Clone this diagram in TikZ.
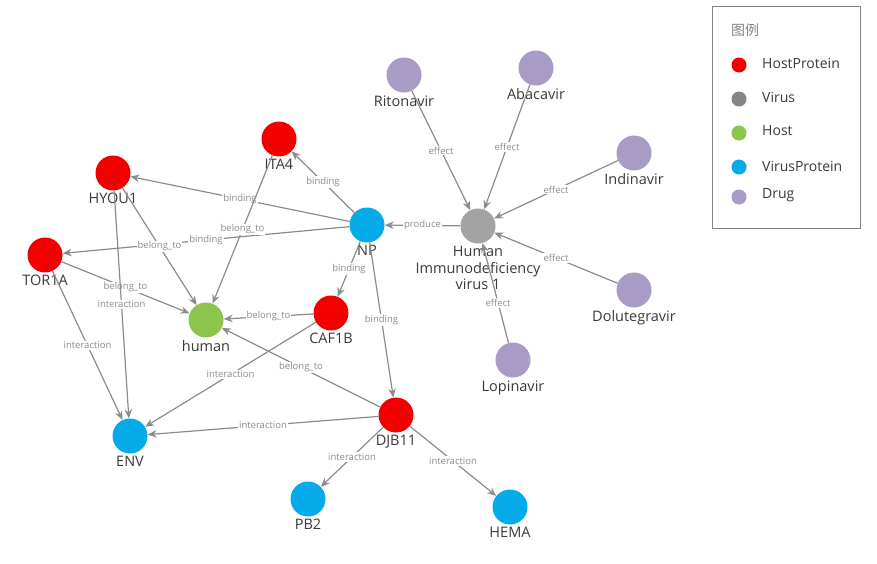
\documentclass[tikz,border=0pt]{standalone}
\usepackage{fontspec}
\setmainfont{Open Sans}
\newfontfamily\cjk{Noto Sans CJK SC}
\usetikzlibrary{arrows.meta}

\definecolor{hostred}{HTML}{F20000}
\definecolor{virusgray}{HTML}{A3A3A3}
\definecolor{legendgray}{HTML}{858585}
\definecolor{hostgreen}{HTML}{8DC54B}
\definecolor{vpblue}{HTML}{05ABE8}
\definecolor{drugpurple}{HTML}{A89CC6}
\definecolor{edgegray}{HTML}{8C8C8C}
\definecolor{textdark}{HTML}{3A3A3A}

\begin{document}
\begin{tikzpicture}[
    x=1pt, y=-1pt,
    entity/.style={circle, minimum size=35pt, inner sep=0pt},
    hostprotein/.style={entity, fill=hostred},
    virus/.style={entity, fill=virusgray},
    host/.style={entity, fill=hostgreen},
    virusprotein/.style={entity, fill=vpblue},
    drug/.style={entity, fill=drugpurple},
    every label/.style={inner sep=0pt, label distance=2.5pt, text=textdark, font=\fontsize{14.5}{16.5}\selectfont},
    arrow/.style={draw=edgegray, line width=1.2pt, -{Stealth[length=9pt,width=7.5pt]}},
    rel/.style={midway, fill=white, inner sep=1pt, text=edgegray, font=\fontsize{9.5}{9.5}\selectfont},
    legenditem/.style={anchor=west, inner sep=0pt, text=textdark, font=\fontsize{14}{14}\selectfont},
    legenddot/.style={circle, minimum size=15pt, inner sep=0pt}
]
    \useasboundingbox [fill=white] (0,0) rectangle (877,563);

    % Host proteins
    \node [hostprotein, label=below:ITA4] (ita4) at (279,139) {};
    \node [hostprotein, label=below:HYOU1] (hyou1) at (113,173) {};
    \node [hostprotein, label=below:TOR1A] (tor1a) at (45,255) {};
    \node [hostprotein, label=below:CAF1B] (caf1b) at (331,313) {};
    \node [hostprotein, label=below:DJB11] (djb11) at (396,415) {};

    % Host
    \node [host, label=below:human] (human) at (206,320) {};

    % Virus proteins
    \node [virusprotein, label=below:NP] (np) at (367,225) {};
    \node [virusprotein, label=below:ENV] (env) at (130,436) {};
    \node [virusprotein, label=below:PB2] (pb2) at (308,499) {};
    \node [virusprotein, label=below:HEMA] (hema) at (510,507) {};

    % Virus
    \node [virus, label={[align=center]below:Human\\Immunodeficiency\\virus 1}] (hiv) at (478,226) {};

    % Drugs
    \node [drug, label=below:Ritonavir] (ritonavir) at (404,75) {};
    \node [drug, label=below:Abacavir] (abacavir) at (536,68) {};
    \node [drug, label=below:Indinavir] (indinavir) at (634,153) {};
    \node [drug, label=below:Dolutegravir] (dolutegravir) at (634,290) {};
    \node [drug, label=below:Lopinavir] (lopinavir) at (513,360) {};

    % Relations
    \draw [arrow] (np) -- (ita4) node [rel] {binding};
    \draw [arrow] (np) -- (hyou1) node [rel] {binding};
    \draw [arrow] (np) -- (tor1a) node [rel] {binding};
    \draw [arrow] (ita4) -- (human) node [rel] {belong\_to};
    \draw [arrow] (hyou1) -- (human) node [rel] {belong\_to};
    \draw [arrow] (tor1a) -- (human) node [rel] {belong\_to};
    \draw [arrow] (hyou1) -- (env) node [rel] {interaction};
    \draw [arrow] (tor1a) -- (env) node [rel] {interaction};
    \draw [arrow] (np) -- (caf1b) node [rel] {binding};
    \draw [arrow] (np) -- (djb11) node [rel] {binding};
    \draw [arrow] (caf1b) -- (human) node [rel] {belong\_to};
    \draw [arrow] (caf1b) -- (env) node [rel] {interaction};
    \draw [arrow] (djb11) -- (human) node [rel] {belong\_to};
    \draw [arrow] (djb11) -- (env) node [rel] {interaction};
    \draw [arrow] (djb11) -- (pb2) node [rel] {interaction};
    \draw [arrow] (djb11) -- (hema) node [rel] {interaction};
    \draw [arrow] (hiv) -- (np) node [rel] {produce};
    \draw [arrow] (ritonavir) -- (hiv) node [rel] {effect};
    \draw [arrow] (abacavir) -- (hiv) node [rel] {effect};
    \draw [arrow] (indinavir) -- (hiv) node [rel] {effect};
    \draw [arrow] (dolutegravir) -- (hiv) node [rel] {effect};
    \draw [arrow] (lopinavir) -- (hiv) node [rel, pos=0.4] {effect};

    % Legend
    \draw [draw=legendgray, line width=0.9pt] (712,6) rectangle (860,228);
    \node [legenditem, text=legendgray, font=\cjk\fontsize{14}{14}\selectfont] (legendtitle) at (731,30) {图例};
    \node [legenddot, fill=hostred] (dothp) at (739,65) {};
    \node [legenditem] (txthp) at (762,63) {HostProtein};
    \node [legenddot, fill=legendgray] (dotv) at (739,99) {};
    \node [legenditem] (txtv) at (762,97) {Virus};
    \node [legenddot, fill=hostgreen] (doth) at (739,133) {};
    \node [legenditem] (txth) at (762,131) {Host};
    \node [legenddot, fill=vpblue] (dotvp) at (739,167) {};
    \node [legenditem] (txtvp) at (762,166) {VirusProtein};
    \node [legenddot, fill=drugpurple] (dotd) at (739,197) {};
    \node [legenditem] (txtd) at (762,195) {Drug};
\end{tikzpicture}
\end{document}
